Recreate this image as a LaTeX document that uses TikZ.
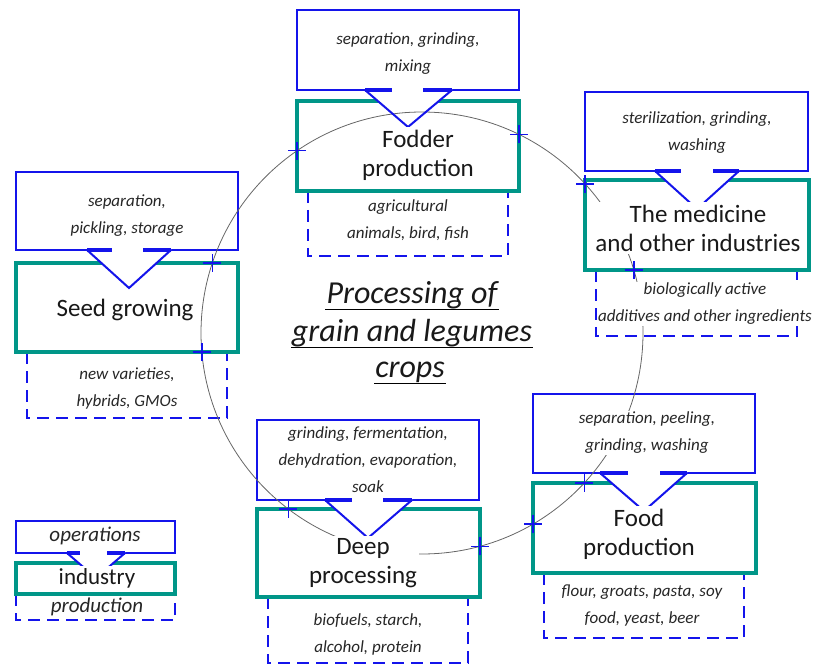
\documentclass[tikz,border=0pt]{standalone}
\usepackage{fontspec}
\setmainfont{Carlito}
\usetikzlibrary{intersections,shapes.misc}

\definecolor{opsblue}{RGB}{20,20,235}
\definecolor{indgreen}{RGB}{0,150,136}

\tikzset{
  opsbox/.style={draw=opsblue, line width=2pt},
  indbox/.style={draw=indgreen, line width=3.5pt},
  prodbox/.style={draw=opsblue, line width=2.2pt, dash pattern=on 12pt off 7pt},
  opstext/.style={fill=white, inner sep=1pt, align=center, text=black!85,
    font=\fontsize{17}{27}\selectfont\itshape},
  indtext/.style={fill=white, inner sep=2.5pt, align=center, text=black!90,
    font=\fontsize{25}{29}\selectfont},
  legops/.style={opstext, font=\fontsize{21}{25}\selectfont\itshape},
  legind/.style={indtext, font=\fontsize{23}{27}\selectfont},
  titletext/.style={inner sep=1pt, text=black!90, font=\fontsize{32}{37}\selectfont\itshape},
  notchfill/.style={fill=white},
  notchline/.style={draw=opsblue, line width=2pt},
  flange/.style={draw=opsblue, line width=3.5pt},
  crossmark/.style={draw=opsblue, cross out, rotate=45, minimum size=11pt,
    inner sep=0pt, line width=1.6pt},
}

\begin{document}
\begin{tikzpicture}[x=1pt,y=-1pt]
\useasboundingbox (0,0) rectangle (823,666);

% Drawing operation boxes
\draw [opsbox] (297,10) rectangle (519,90);%
\draw [opsbox] (16,172) rectangle (238,250);%
\draw [opsbox] (585,92) rectangle (808,171);%
\draw [opsbox] (533,394) rectangle (755,473);%
\draw [opsbox] (257,420) rectangle (479,500);%
\draw [opsbox] (16,521) rectangle (175,553);%

% Drawing production boxes
\draw [prodbox] (308,191) -- (308,256) -- (508,256) -- (508,191);%
\draw [prodbox] (27,352) -- (27,418) -- (227,418) -- (227,352);%
\draw [prodbox] (596,270) -- (596,336) -- (797,336) -- (797,270);%
\draw [prodbox] (544,573) -- (544,638) -- (744,638) -- (744,573);%
\draw [prodbox] (268,597) -- (268,663) -- (468,663) -- (468,597);%
\draw [prodbox] (16,594) -- (16,620) -- (175,620) -- (175,594);%

% Drawing industry boxes
\draw [indbox, name path=fodbox] (297,101) rectangle (519,191);%
\draw [indbox, name path=seedbox] (16,263) rectangle (238,352);%
\draw [indbox, name path=medbox] (585,180) rectangle (809,270);%
\draw [indbox, name path=foodbox] (533,483) rectangle (756,573);%
\draw [indbox, name path=deepbox] (257,509) rectangle (480,597);%
\draw [indbox] (16,563) rectangle (175,594);%

% Clearing notches
\fill [notchfill] (365,87) -- (452,87) -- (452,90) -- (408,127) -- (365,90) -- cycle;%
\fill [notchfill] (87,247) -- (171,247) -- (171,250) -- (129,288) -- (87,250) -- cycle;%
\fill [notchfill] (655,168) -- (739,168) -- (739,171) -- (697,209) -- (655,171) -- cycle;%
\fill [notchfill] (600,470) -- (687,470) -- (687,473) -- (644,511) -- (600,473) -- cycle;%
\fill [notchfill] (325,497) -- (412,497) -- (412,500) -- (368,538) -- (325,500) -- cycle;%
\fill [notchfill] (67,550) -- (125,550) -- (125,553) -- (96,578) -- (67,553) -- cycle;%

% Drawing circle
\draw [black!60, line width=0.8pt, name path=ring] (422,333) circle [radius=221];%

% Drawing notches
\draw [notchline] (365,90) -- (408,127) -- (452,90);%
\draw [flange] (365,90) -- (392,90);%
\draw [flange] (423,90) -- (452,90);%
\draw [notchline] (87,250) -- (129,288) -- (171,250);%
\draw [flange] (87,250) -- (112,250);%
\draw [flange] (143,250) -- (171,250);%
\draw [notchline] (655,171) -- (697,209) -- (739,171);%
\draw [flange] (655,171) -- (681,171);%
\draw [flange] (713,171) -- (739,171);%
\draw [notchline] (600,473) -- (644,511) -- (687,473);%
\draw [flange] (600,473) -- (628,473);%
\draw [flange] (660,473) -- (687,473);%
\draw [notchline] (325,500) -- (368,538) -- (412,500);%
\draw [flange] (325,500) -- (352,500);%
\draw [flange] (383,500) -- (412,500);%
\draw [notchline] (67,553) -- (96,578) -- (125,553);%
\draw [flange] (67,553) -- (80,553);%
\draw [flange] (107,553) -- (125,553);%

% Fodder production
\node [opstext] (fodops) at (408,54) {separation, grinding,\\mixing};%
\node [indtext] (fod) at (418,155) {Fodder\\production};%
\node [opstext] (fodprod) at (408,220) {agricultural\\animals, bird, fish};%

% Seed growing
\node [opstext] (seedops) at (127,216) {separation,\\pickling, storage};%
\node [indtext] (seed) at (125,310) {Seed growing};%
\node [opstext] (seedprod) at (127,388) {new varieties,\\hybrids, GMOs};%

% The medicine
\node [opstext] (medops) at (697,133) {sterilization, grinding,\\washing};%
\node [indtext] (med) at (698,228) {The medicine\\and other industries};%
\node [opstext] (medprod) at (705,304) {biologically active\\additives and other ingredients};%

% Food production
\node [opstext] (foodops) at (647,433) {separation, peeling,\\grinding, washing};%
\node [indtext] (food) at (639,534) {Food\\production};%
\node [opstext] (foodprod) at (642,606) {flour, groats, pasta, soy\\food, yeast, beer};%

% Deep processing
\node [opstext] (deepops) at (368,460) {grinding, fermentation,\\dehydration, evaporation,\\soak};%
\node [indtext] (deep) at (363,563) {Deep\\processing};%
\node [opstext] (deepprod) at (368,634) {biofuels, starch,\\alcohol, protein};%

% Legend
\node [legops] (legops) at (95,536) {operations};%
\node [legind] (legind) at (97,578) {industry};%
\node [legops] (legprod) at (97,607) {production};%

% Title
\node [titletext, anchor=base] (title1) at (412,303) {Processing of};%
\node [titletext, anchor=base] (title2) at (412,341) {grain and legumes};%
\node [titletext, anchor=base] (title3) at (410,377) {crops};%
\draw [line width=1.3pt] (title1.south west) -- (title1.south east);%
\draw [line width=1.3pt] (title2.south west) -- (title2.south east);%
\draw [line width=1.3pt] (title3.south west) -- (title3.south east);%

% Marking crossings by crosses
\path [name intersections={of=ring and fodbox, name=fx, total=\t}]
  \foreach \k in {1,...,\t} {(fx-\k) node [crossmark] (fodmk\k) {}};%
\path [name intersections={of=ring and seedbox, name=sx, total=\t}]
  \foreach \k in {1,...,\t} {(sx-\k) node [crossmark] (seedmk\k) {}};%
\path [name intersections={of=ring and medbox, name=mx, total=\t}]
  \foreach \k in {1,...,\t} {(mx-\k) node [crossmark] (medmk\k) {}};%
\path [name intersections={of=ring and foodbox, name=ox, total=\t}]
  \foreach \k in {1,...,\t} {(ox-\k) node [crossmark] (foodmk\k) {}};%
\path [name intersections={of=ring and deepbox, name=dx, total=\t}]
  \foreach \k in {1,...,\t} {(dx-\k) node [crossmark] (deepmk\k) {}};%
\end{tikzpicture}
\end{document}
